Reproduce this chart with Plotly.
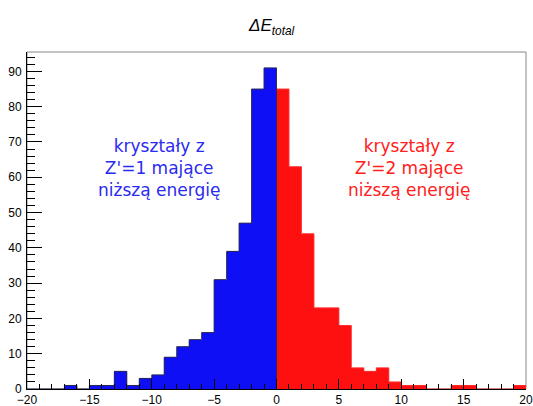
import plotly.graph_objects as go

# Histogram data: bins of width 1
blue_edges = list(range(-20, 0))          # lower edges, bins -20..-1
blue_counts = [0, 0, 0, 1, 0, 1, 1, 5, 1, 3, 4, 9, 12, 14, 16, 31, 39, 47, 85, 91]
red_edges = list(range(0, 20))            # lower edges, bins 0..19
red_counts = [85, 63, 44, 23, 23, 18, 6, 5, 6, 2, 1, 1, 0, 0, 1, 1, 0, 0, 0, 1]

x_ticks = [-20, -15, -10, -5, 0, 5, 10, 15, 20]
x_tick_labels = ["\u221220", "\u221215", "\u221210", "\u22125", "0", "5", "10", "15", "20"]
y_ticks = [0, 10, 20, 30, 40, 50, 60, 70, 80, 90]

title_text = "<i>\u0394E<sub>total</sub></i>"
blue_label = "kryształy z<br>Z'=1 mające<br>niższą energię"
red_label = "kryształy z<br>Z'=2 mające<br>niższą energię"

BLUE = "#0f0ff5"
RED = "#ff1010"

fig = go.Figure()

fig.add_trace(go.Bar(x=[e + 0.5 for e in blue_edges], y=blue_counts, width=1,
                     marker=dict(color=BLUE, line=dict(width=0)), showlegend=False))
fig.add_trace(go.Bar(x=[e + 0.5 for e in red_edges], y=red_counts, width=1,
                     marker=dict(color=RED, line=dict(width=0)), showlegend=False))

# Outlines (step contours)
def step(edges, counts):
    xs = [edges[0]] + edges + [edges[-1] + 1]
    ys = [0] + counts + [counts[-1]]
    xs = xs + [edges[-1] + 1]
    ys = ys + [0]
    return xs, ys

rx, ry = step(red_edges, red_counts)
fig.add_trace(go.Scatter(x=rx, y=ry, mode="lines", line=dict(color="#ff3030", width=1, shape="hv"),
                         showlegend=False, hoverinfo="skip"))
bx, by = step(blue_edges, blue_counts)
fig.add_trace(go.Scatter(x=bx, y=by, mode="lines", line=dict(color="#2a2a55", width=1, shape="hv"),
                         showlegend=False, hoverinfo="skip"))

fig.update_layout(
    width=533, height=406,
    margin=dict(l=27, r=7, t=52, b=17),
    paper_bgcolor="white", plot_bgcolor="white",
    bargap=0, barmode="overlay",
    font=dict(family="Liberation Sans, Arial, sans-serif", color="black", size=12),
    xaxis=dict(range=[-20, 20], tickvals=x_ticks, ticktext=x_tick_labels,
               ticks="inside", ticklen=10, tickcolor="black", tickwidth=1,
               minor=dict(dtick=1, ticks="inside", ticklen=5, tickcolor="black"),
               showgrid=False, zeroline=False, showline=True, linecolor="black", linewidth=1,
               tickfont=dict(size=12), ticklabelstandoff=0, automargin=False),
    yaxis=dict(range=[0, 95.5], tickvals=y_ticks,
               ticks="inside", ticklen=15, tickcolor="black", tickwidth=1,
               minor=dict(dtick=2, ticks="inside", ticklen=8, tickcolor="black"),
               showgrid=False, zeroline=False, showline=True, linecolor="black", linewidth=1,
               tickfont=dict(size=12), ticklabelstandoff=2, automargin=False),
    shapes=[dict(type="rect", xref="paper", yref="paper", x0=0, x1=1, y0=0, y1=1,
                 line=dict(color="#888888", width=1), layer="below")],
    annotations=[
        dict(text=title_text, xref="paper", yref="paper", x=0.49, y=1.0, yshift=25,
             xanchor="center", yanchor="middle", showarrow=False,
             font=dict(family="Liberation Sans, Arial, sans-serif", size=17, color="black")),
        dict(text=blue_label, x=-9.4, y=62.5, xanchor="center", yanchor="middle", showarrow=False,
             font=dict(family="DejaVu Sans", size=17, color="#2a2af0"), align="center"),
        dict(text=red_label, x=10.6, y=62.5, xanchor="center", yanchor="middle", showarrow=False,
             font=dict(family="DejaVu Sans", size=17, color="#ff2020"), align="center"),
    ],
)

fig.write_html("out.html", config={"displayModeBar": False},
               post_script="document.body.style.margin='0';document.body.style.overflow='hidden';")
